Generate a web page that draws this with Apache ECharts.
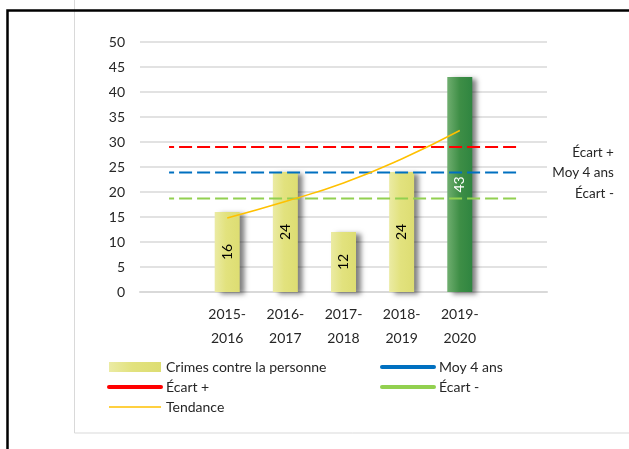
<!DOCTYPE html>
<html>
<head>
<meta charset="utf-8">
<script src="https://cdn.jsdelivr.net/npm/echarts@6/dist/echarts.min.js"></script>
<style>
html, body { margin: 0; padding: 0; background: #fff; }
#chart { width: 629px; height: 449px; }
</style>
</head>
<body>
<div id="chart"></div>
<script>
// categories: first and last slots stay empty (as in the original chart)
var categories = ['', '2015-\n2016', '2016-\n2017', '2017-\n2018', '2018-\n2019', '2019-\n2020', ''];
var crimes = [null, 16, 24, 12, 24, 43, null];
var tendance = [null, 14.8, 18.1, 21.8, 26.6, 32.3, null];
var moy4ans = 23.9;
var ecartPlus = 29.0;
var ecartMoins = 18.7;
var yTicks = [0, 50, 5]; // min, max, interval

(function () {
	var font = 'Lato, "Open Sans", sans-serif';
	var txt = '#262626';

	// reference line = same value on every slot
	function flat(v) {
		var out = [];
		for (var i = 0; i < categories.length; i++) out.push(v);
		return out;
	}

	var barData = crimes.map(function (v, i) {
		if (v == null) return null;
		if (i == 5) {
			return {
				value: v,
				itemStyle: {
					color: new echarts.graphic.LinearGradient(0, 0, 1, 0, [
						{ offset: 0, color: '#6FAE6F' },
						{ offset: 0.5, color: '#3E8E46' },
						{ offset: 1, color: '#2F8540' }
					])
				},
				label: { color: '#fff' }
			};
		}
		return v;
	});

	function refLine(name, value, color, dy) {
		return {
			name: name,
			type: 'line',
			data: flat(value),
			symbol: 'none',
			silent: true,
			lineStyle: { color: color, width: 2, type: [13, 5], dashOffset: 8 },
			itemStyle: { color: color },
			endLabel: {
				show: true,
				formatter: name,
				align: 'right',
				offset: [88, dy],
				fontFamily: font,
				fontSize: 13.5,
				color: txt
			},
			z: 3
		};
	}

	var solidLegend = { type: 'solid', width: 4, cap: 'round' };
	var noSymbol = { opacity: 0 };
	var legendText = { fontFamily: font, fontSize: 14, color: txt };

	var chart = echarts.init(document.getElementById('chart'));
	var option = {
		animation: false,
		graphic: [
			{ type: 'rect', shape: { x: 74.5, y: -5, width: 700, height: 438 }, style: { fill: 'none', stroke: '#D9D9D9', lineWidth: 1 }, z: -10 },
			{ type: 'rect', shape: { x: 7.5, y: 10.5, width: 700, height: 600 }, style: { fill: 'none', stroke: '#000', lineWidth: 2.5 }, z: -9 }
		],
		grid: {
			left: 140,
			right: 82,
			top: 42,
			bottom: 157
		},
		legend: [{
			left: 107,
			top: 360,
			padding: 0,
			orient: 'vertical',
			itemWidth: 52,
			itemHeight: 10,
			itemGap: 6,
			textStyle: legendText,
			data: [
				{ name: 'Crimes contre la personne', icon: 'rect' },
				{ name: 'Écart +', icon: 'inherit', lineStyle: solidLegend, itemStyle: noSymbol },
				{ name: 'Tendance', icon: 'inherit', lineStyle: { width: 1.5 }, itemStyle: noSymbol }
			]
		}, {
			left: 380,
			top: 360,
			padding: 0,
			orient: 'vertical',
			itemWidth: 52,
			itemHeight: 10,
			itemGap: 6,
			textStyle: legendText,
			data: [
				{ name: 'Moy 4 ans', icon: 'inherit', lineStyle: solidLegend, itemStyle: noSymbol },
				{ name: 'Écart -', icon: 'inherit', lineStyle: solidLegend, itemStyle: noSymbol }
			]
		}],
		xAxis: {
			type: 'category',
			data: categories,
			axisTick: { show: false },
			axisLine: { lineStyle: { color: '#D9D9D9', width: 2 } },
			axisLabel: {
				interval: 0,
				margin: 10,
				fontFamily: font,
				fontSize: 14,
				lineHeight: 24,
				color: txt
			}
		},
		yAxis: {
			type: 'value',
			min: yTicks[0],
			max: yTicks[1],
			interval: yTicks[2],
			axisLine: { show: false },
			axisTick: { show: false },
			splitLine: { lineStyle: { color: '#D9D9D9', width: 1.5 } },
			axisLabel: {
				margin: 15,
				fontFamily: font,
				fontSize: 14,
				color: txt
			}
		},
		series: [{
			name: 'Crimes contre la personne',
			type: 'bar',
			data: barData,
			barWidth: 25,
			itemStyle: {
				color: new echarts.graphic.LinearGradient(0, 0, 1, 0, [
					{ offset: 0, color: '#EBEBA4' },
					{ offset: 0.45, color: '#E2E27E' },
					{ offset: 1, color: '#DDDD72' }
				]),
				shadowColor: 'rgba(0,0,0,0.5)',
				shadowBlur: 5,
				shadowOffsetX: 5,
				shadowOffsetY: 2
			},
			label: {
				show: true,
				position: 'inside',
				rotate: 90,
				fontFamily: font,
				fontSize: 14,
				color: '#000'
			},
			z: 2
		},
			refLine('Écart +', ecartPlus, '#FF0000', 6),
			refLine('Moy 4 ans', moy4ans, '#0070C0', 0),
			refLine('Écart -', ecartMoins, '#92D050', -5),
		{
			name: 'Tendance',
			type: 'line',
			data: tendance,
			smooth: true,
			symbol: 'none',
			lineStyle: { color: '#FFC000', width: 1.5 },
			itemStyle: { color: '#FFC000' },
			z: 4
		}]
	};

	chart.setOption(option);

	window.addEventListener('resize', function () {
		chart.resize();
	});
})();
</script>
</body>
</html>
